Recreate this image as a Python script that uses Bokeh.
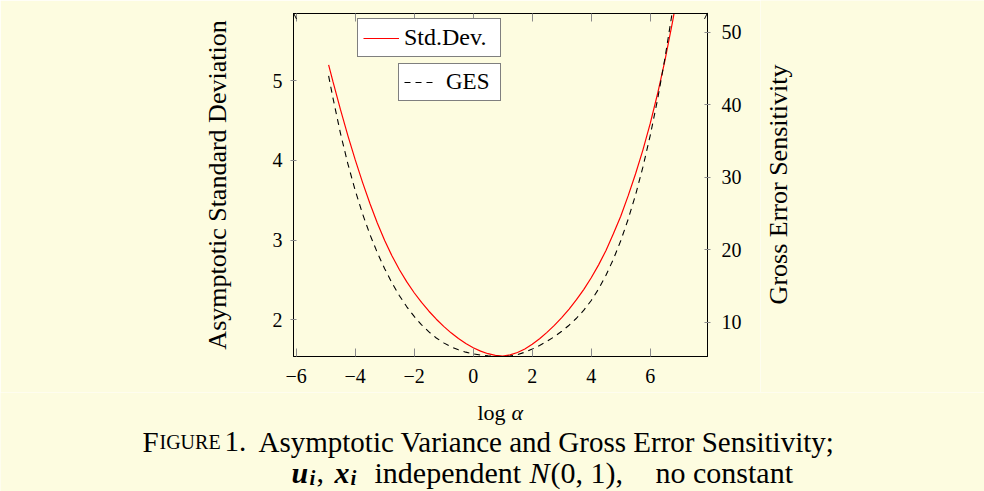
import math
from bokeh.plotting import figure
from bokeh.layouts import column, row
from bokeh.models import (Range1d, LinearAxis, FixedTicker, Legend, LegendItem,
                          CustomJSTickFormatter, Arrow, OpenHead)
from bokeh.core.properties import value
from bokeh.embed import file_html
from bokeh.resources import INLINE

# ---- data ----
log_alpha = [-4.9, -4.75, -4.5, -4.25, -4.0, -3.75, -3.5, -3.25, -3.0, -2.75, -2.5, -2.25,
             -2.0, -1.75, -1.5, -1.25, -1.0, -0.75, -0.5, -0.25, 0.0, 0.25, 0.5, 0.75,
             1.0, 1.25, 1.5, 1.75, 2.0, 2.25, 2.5, 2.75, 3.0, 3.25, 3.5, 3.75, 4.0, 4.25,
             4.5, 4.75, 5.0, 5.25, 5.5, 5.75, 6.0, 6.25, 6.5, 6.75, 7.0]
std_dev = [5.20, 4.985, 4.64, 4.315, 4.01, 3.725, 3.46, 3.215, 2.995, 2.80, 2.628, 2.476,
           2.34, 2.218, 2.108, 2.008, 1.918, 1.837, 1.765, 1.702, 1.65, 1.607, 1.575, 1.555,
           1.545, 1.56, 1.59, 1.635, 1.693, 1.763, 1.843, 1.931, 2.028, 2.135, 2.253, 2.383,
           2.528, 2.69, 2.87, 3.08, 3.30, 3.555, 3.83, 4.13, 4.465, 4.84, 5.26, 5.73, 6.24]
ges = [44.0, 40.91, 36.11, 31.91, 28.21, 24.96, 22.11, 19.61, 17.39, 15.41, 13.66, 12.13,
       10.80, 9.65, 8.66, 7.83, 7.15, 6.61, 6.19, 5.87, 5.63, 5.46, 5.35, 5.29,
       5.27, 5.33, 5.53, 5.86, 6.29, 6.79, 7.36, 8.01, 8.75, 9.59, 10.55, 11.67, 13.0, 14.6,
       16.5, 18.7, 21.25, 24.2, 27.55, 31.4, 35.8, 40.8, 46.5, 52.9, 60.0]

x_ticks = [-6, -4, -2, 0, 2, 4, 6]
left_ticks = [2, 3, 4, 5]
right_ticks = [10, 20, 30, 40, 50]

left_label = "Asymptotic Standard Deviation"
right_label = "Gross Error Sensitivity"
legend_labels = ["Std.Dev.", "GES"]

FONT = "Liberation Serif"
BG = "#FDFCE0"

W = 984
H1 = 392          # chart incl. tick labels
H2 = 491 - H1     # strip below: x-axis title and caption
W1 = 760          # width of the main chart
W2 = W - W1       # strip on the right holding the right-hand axis title

def bare(fig):
    fig.frame_align = False
    fig.background_fill_color = BG
    fig.border_fill_color = BG
    fig.outline_line_color = None
    fig.xgrid.grid_line_color = None
    fig.ygrid.grid_line_color = None

p = figure(width=W1, height=H1, output_backend="svg", toolbar_location=None,
           x_range=Range1d(-6.09, 7.94), y_range=Range1d(1.54, 5.844),
           x_axis_location=None, y_axis_location=None,
           min_border_left=293, min_border_right=W1 - 707, min_border_top=13,
           min_border_bottom=H1 - 356)
bare(p)
p.outline_line_color = "black"
p.extra_y_ranges = {"ges": Range1d(5.27, 52.62)}

minus_fmt = CustomJSTickFormatter(code="return tick < 0 ? '\u2212' + (-tick) : '' + tick;")
blank_fmt = CustomJSTickFormatter(code="return '';")

def style_axis(ax, tick_in, tick_out, size="20px"):
    ax.axis_line_color = "black"
    ax.axis_line_width = 1
    ax.major_tick_line_color = "#8a8a8a"
    ax.major_tick_in = tick_in
    ax.major_tick_out = tick_out
    ax.minor_tick_line_color = None
    ax.major_label_text_font = FONT
    ax.major_label_text_font_size = size
    ax.major_label_text_color = "black"
    ax.axis_label_text_font = FONT
    ax.axis_label_text_font_style = "normal"
    ax.axis_label_text_color = "black"

xb = LinearAxis(ticker=FixedTicker(ticks=x_ticks), formatter=minus_fmt)
style_axis(xb, 8, 0)
xb.major_label_standoff = 12
p.add_layout(xb, "below")

xt = LinearAxis(ticker=FixedTicker(ticks=x_ticks), formatter=blank_fmt)
style_axis(xt, 8, 0)
xt.major_label_standoff = 0
p.add_layout(xt, "above")

yl = LinearAxis(ticker=FixedTicker(ticks=left_ticks), axis_label=left_label)
style_axis(yl, 3, 3)
yl.major_label_standoff = 8
yl.axis_label_text_font_size = "26px"
yl.axis_label_standoff = 38
p.add_layout(yl, "left")

yr = LinearAxis(y_range_name="ges", ticker=FixedTicker(ticks=right_ticks))
style_axis(yr, 3, 3)
yr.major_label_standoff = 11
p.add_layout(yr, "right")

r1 = p.line(log_alpha, std_dev, line_color="#ff0000", line_width=1.2)
r2 = p.line(log_alpha, ges, y_range_name="ges", line_color="black", line_width=1.1,
            line_dash="6 5")

def make_legend(label, renderer, loc, size, glyph_w, standoff, label_w):
    lg = Legend(items=[LegendItem(label=label, renderers=[renderer])], location=loc,
                orientation="vertical", border_line_color="black", border_line_width=1,
                background_fill_color="white", background_fill_alpha=1.0,
                padding=5, spacing=0, margin=0, glyph_width=glyph_w, glyph_height=22,
                label_standoff=standoff, label_width=label_w,
                label_text_font=FONT, label_text_font_size=size,
                label_text_color="black", label_height=22)
    p.add_layout(lg)

make_legend(legend_labels[0], r1, (64, 299), "24px", 36, 5, 91)
make_legend(legend_labels[1], r2, (105, 255), "23px", 32, 10, 49)

p.add_layout(Arrow(end=OpenHead(size=6, line_width=1, line_color="black"),
                   x_start=-6.09, y_start=5.7, x_end=-6.09, y_end=5.85, line_color="black"))
p.add_layout(Arrow(end=OpenHead(size=6, line_width=1, line_color="black"),
                   x_start=7.94, y_start=51.0, x_end=7.94, y_end=52.7, line_color="black",
                   y_range_name="ges"))

# ---- right strip: right-hand axis title, read bottom to top ----
rs = figure(width=W2, height=H1, output_backend="svg", toolbar_location=None,
            x_range=Range1d(W1, W), y_range=Range1d(0, H1),
            x_axis_location=None, y_axis_location=None,
            min_border=0, min_border_left=0, min_border_right=0,
            min_border_top=0, min_border_bottom=0)
bare(rs)
rs.text(x=[778], y=[H1 - 184], text=[right_label], angle=math.pi / 2,
        text_font=value(FONT), text_font_size="26px", text_color="black",
        text_align="center", text_baseline="middle")

# ---- bottom strip (pixel coordinates, y down from its top) ----
c = figure(width=W, height=H2, output_backend="svg", toolbar_location=None,
           x_range=Range1d(0, W), y_range=Range1d(H2, 0),
           x_axis_location=None, y_axis_location=None,
           min_border=0, min_border_left=0, min_border_right=0,
           min_border_top=0, min_border_bottom=0)
bare(c)

BX = 412 - H1
B1 = 441 - H1
B2 = 472 - H1

def ctext(xs, ys, texts, size, style="normal"):
    c.text(x=xs, y=ys, text=texts, text_font=value(FONT), text_font_size=size,
           text_font_style=style, text_color="black", text_baseline="alphabetic",
           text_align="left")

# x-axis title "log α"
ctext([477], [BX], ["log"], "22px")
ctext([511], [BX], ["α"], "22px", "italic")

# caption
ctext([142, 224, 258], [B1, B1, B1],
      ["F", "1.", "Asymptotic Variance and Gross Error Sensitivity;"], "29px")
ctext([159], [B1], ["IGURE"], "20px")
ctext([291, 334], [B2, B2], ["u", "x"], "30px", "bold italic")
ctext([309, 350], [B2 + 5, B2 + 5], ["i", "i"], "21px", "bold italic")
ctext([316, 374, 550, 655], [B2, B2, B2, B2], [",", "independent", "(0, 1),", "no constant"], "30px")
ctext([529], [B2], ["N"], "30px", "italic")

layout = column(row(p, rs, spacing=0), c, spacing=0)
open("out.html", "w").write(file_html(layout, INLINE))
